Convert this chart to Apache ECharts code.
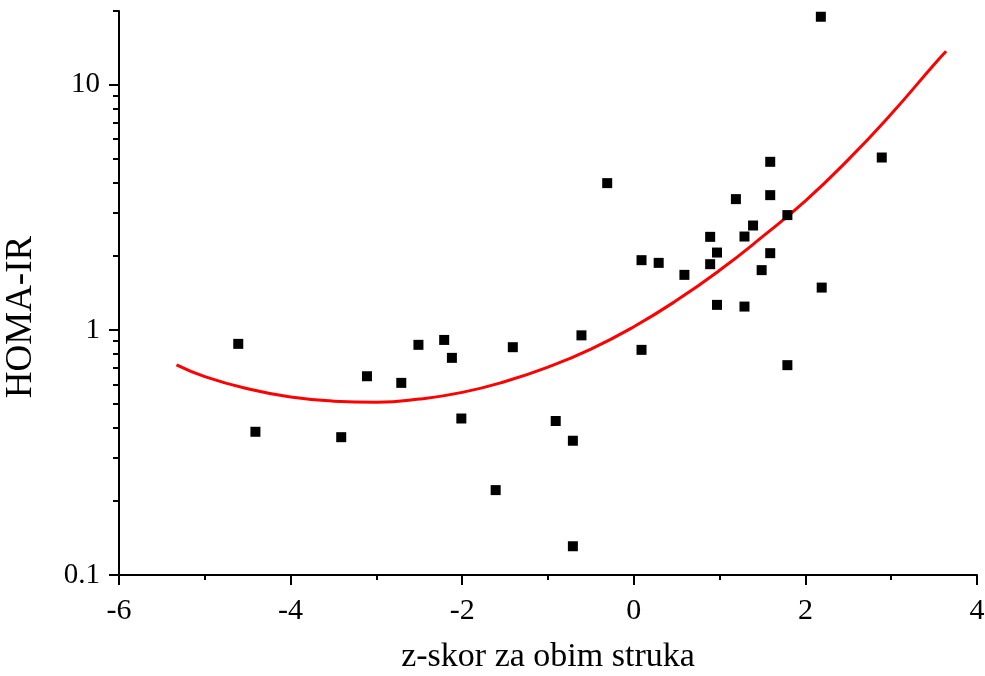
<!DOCTYPE html>
<html>
<head>
<meta charset="utf-8">
<title>HOMA-IR</title>
<script src="https://cdn.jsdelivr.net/npm/echarts@6/dist/echarts.min.js"></script>
<style>
  html, body { margin: 0; padding: 0; background: #fff; }
  #chart { width: 985px; height: 676px; }
</style>
</head>
<body>
<div id="chart"></div>
<script>
// izmjereni podaci (z-skor, HOMA-IR)
const zScore = [
  -4.61, -4.41, -3.41, -3.11, -2.71, -2.51, -2.21, -2.12, -2.01, -1.61,
  -1.41, -0.91, -0.71, -0.71, -0.61, -0.31, 0.09, 0.09, 0.29, 0.59,
  0.89, 0.89, 0.97, 0.97, 1.19, 1.29, 1.29, 1.39, 1.49, 1.59,
  1.59, 1.59, 1.79, 1.79, 2.18, 2.19, 2.89
];
const homaIr = [
  0.877, 0.384, 0.365, 0.647, 0.608, 0.869, 0.910, 0.769, 0.435, 0.222,
  0.850, 0.425, 0.353, 0.131, 0.950, 3.97, 1.925, 0.829, 1.877, 1.677,
  2.397, 1.854, 2.068, 1.265, 3.416, 2.404, 1.245, 2.666, 1.753, 4.85,
  3.546, 2.056, 2.94, 0.718, 18.95, 1.488, 5.05
];

// crvena krivulja (ocitana sa slike)
const fitX = [-5.33, -5, -4.5, -4, -3.5, -3, -2.5, -2, -1.5, -1,
  -0.5, 0, 0.5, 1, 1.5, 2, 2.5, 3, 3.5, 3.64];
const fitY = [0.72, 0.645, 0.575, 0.532, 0.512, 0.507, 0.522, 0.556, 0.616, 0.705,
  0.835, 1.03, 1.32, 1.75, 2.40, 3.36, 4.95, 7.6, 12.1, 13.7];

const yMajor = [0.1, 1, 10];
const yMinor = [0.2, 0.3, 0.4, 0.5, 0.6, 0.7, 0.8, 0.9, 2, 3, 4, 5, 6, 7, 8, 9, 20];

const FONT = "'Liberation Serif', 'Times New Roman', serif";

const chart = echarts.init(document.getElementById("chart"));

const points = zScore.map((x, i) => [x, homaIr[i]]);
const curve = fitX.map((x, i) => [x, fitY[i]]);

const option = {
  animation: false,
  grid: {
    left: 119,
    right: 8,
    top: 11,
    bottom: 101,
    containLabel: false,
    outerBoundsMode: "none"
  },
  xAxis: {
    type: "value",
    min: -6,
    max: 4,
    interval: 2,
    name: "z-skor za obim struka",
    nameLocation: "middle",
    nameGap: 65,
    nameTextStyle: { fontFamily: FONT, fontSize: 34, color: "#000" },
    axisLine: { show: true, onZero: false, lineStyle: { color: "#000", width: 2 } },
    axisTick: { show: true, length: 10, lineStyle: { color: "#000", width: 2 } },
    minorTick: { show: true, splitNumber: 2, length: 5, lineStyle: { color: "#000", width: 2 } },
    axisLabel: { fontFamily: FONT, fontSize: 30, color: "#000", margin: 21 },
    splitLine: { show: false }
  },
  yAxis: [
    {
      type: "log",
      logBase: 10,
      min: 0.1,
      max: 20,
      name: "HOMA-IR",
      nameLocation: "middle",
      nameGap: 79,
      nameRotate: 90,
      nameTextStyle: { fontFamily: FONT, fontSize: 37, color: "#000", padding: [0, 48, 0, 0] },
      axisLine: { show: true, onZero: false, lineStyle: { color: "#000", width: 2 } },
      axisTick: { show: true, length: 10, customValues: yMajor, lineStyle: { color: "#000", width: 2 } },
      axisLabel: {
        fontFamily: FONT, fontSize: 29, color: "#000", margin: 19,
        customValues: yMajor,
        formatter: v => String(v)
      },
      splitLine: { show: false }
    },
    {
      type: "log",
      logBase: 10,
      min: 0.1,
      max: 20,
      position: "left",
      axisLine: { show: false, onZero: false },
      axisTick: { show: true, length: 6, customValues: yMinor, lineStyle: { color: "#000", width: 2 } },
      axisLabel: { show: false },
      splitLine: { show: false }
    }
  ],
  series: [
    {
      type: "line",
      data: curve,
      smooth: true,
      showSymbol: false,
      symbol: "none",
      lineStyle: { color: "#ff0000", width: 3 },
      z: 2
    },
    {
      type: "scatter",
      data: points,
      symbol: "rect",
      symbolSize: 10,
      itemStyle: { color: "#000", opacity: 1 },
      z: 3
    }
  ]
};

chart.setOption(option);
</script>
</body>
</html>
